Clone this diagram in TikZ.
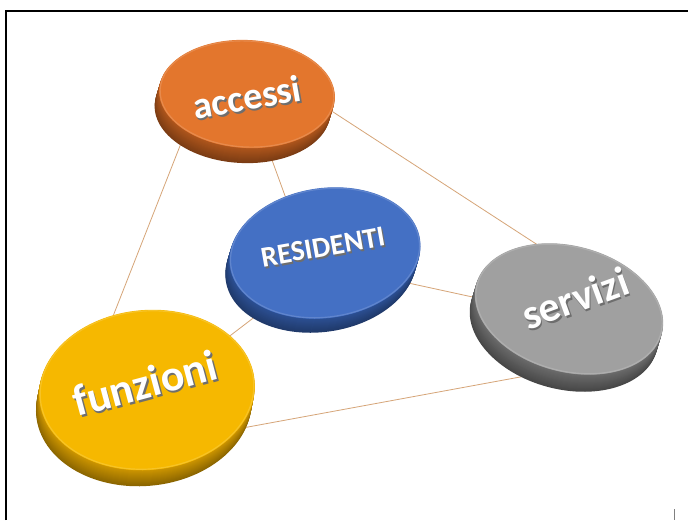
\documentclass[tikz,border=0pt]{standalone}
\usepackage{fontspec}
\setmainfont{Carlito}
\usetikzlibrary{calc}
\definecolor{linkc}{RGB}{214,165,120}
\definecolor{shadowc}{RGB}{110,110,110}
\definecolor{accface}{RGB}{227,118,45}
\definecolor{accside}{RGB}{176,86,28}
\definecolor{resface}{RGB}{68,112,196}
\definecolor{resside}{RGB}{44,80,148}
\definecolor{serface}{RGB}{160,160,160}
\definecolor{serside}{RGB}{108,108,108}
\definecolor{funface}{RGB}{246,184,0}
\definecolor{funside}{RGB}{206,150,0}
% #1 cx, #2 cy, #3 rx, #4 ry, #5 rot, #6 dx per step, #7 steps, #8 face, #9 side
\newcommand\drawdisk[9]{%
  \foreach \k in {#7,...,1}{%
    \pgfmathsetmacro\px{#1+\k*#6}%
    \pgfmathsetmacro\py{#2+\k}%
    \pgfmathtruncatemacro\pc{100-\k*2}%
    \fill[#9!\pc!black, rotate around={#5:(\px,\py)}] (\px,\py) ellipse [x radius=#3pt, y radius=#4pt];
  }%
  \fill[#8, rotate around={#5:(#1,#2)}] (#1,#2) ellipse [x radius=#3pt, y radius=#4pt];
  \draw[#8!85!white, line width=1.2pt, rotate around={#5:(#1,#2)}] (#1,#2) ellipse [x radius=#3pt-1pt, y radius=#4pt-1pt];
  \fill[#8, rotate around={#5:(#1,#2)}] (#1,#2) ellipse [x radius=#3pt-3pt, y radius=#4pt-3pt];
}
\begin{document}
\begin{tikzpicture}[x=1pt,y=-1pt,
  link/.style={draw=linkc, line width=0.8pt},
  lbl/.style={text=white, font=\bfseries, inner sep=0pt},
  lblsh/.style={text=shadowc, font=\bfseries, inner sep=0pt},
  frameline/.style={line width=2pt, draw=black}]
\useasboundingbox (0,0) rectangle (688,520);
\fill[white] (0,0) rectangle (688,520);
% frame
\coordinate (ftl) at (5.5,10.5);
\coordinate (fbl) at (5.5,520);
\coordinate (ftr) at (688,10.5);
\draw[frameline] (fbl) -- (ftl) -- (ftr);
\coordinate (tickt) at (674,509);
\coordinate (tickb) at (674,520);
\draw[gray, line width=0.7pt] (tickt) -- (tickb);
% disk centres
\coordinate (acc) at (246,94);
\coordinate (res) at (324,253);
\coordinate (ser) at (567,310);
\coordinate (fun) at (146,390);
% connector end points
\coordinate (af1) at (200,95);  \coordinate (af2) at (84,390);
\coordinate (as1) at (250,58);  \coordinate (as2) at (567,264);
\coordinate (ar1) at (260,127); \coordinate (ar2) at (300,237);
\coordinate (rs1) at (330,266); \coordinate (rs2) at (560,316);
\coordinate (rf1) at (320,267); \coordinate (rf2) at (146,400);
\coordinate (fs1) at (150,445); \coordinate (fs2) at (580,366);
\draw[link] (af1) -- (af2);
\draw[link] (as1) -- (as2);
\draw[link] (ar1) -- (ar2);
\draw[link] (rs1) -- (rs2);
\draw[link] (rf1) -- (rf2);
\draw[link] (fs1) -- (fs2);
% disks
\drawdisk{247}{94}{88}{54}{-3}{-0.3}{15}{accface}{accside}
\drawdisk{325}{253}{96}{65}{8}{-0.3}{14}{resface}{resside}
\drawdisk{569}{309}{96}{63}{-15}{-0.3}{17}{serface}{serside}
\drawdisk{147}{390}{108}{80}{5}{-0.2}{16}{funface}{funside}
% labels
\node[lblsh, font=\bfseries\fontsize{38}{40}\selectfont, rotate=10] (accsh) at (248.5,99) {accessi};
\node[lbl,   font=\bfseries\fontsize{38}{40}\selectfont, rotate=10] (acct) at (247,97) {accessi};
\node[lblsh, font=\bfseries\fontsize{29}{31}\selectfont, rotate=10] (ressh) at (324.5,249) {RESIDENTI};
\node[lbl,   font=\bfseries\fontsize{29}{31}\selectfont, rotate=10] (rest) at (323,247) {RESIDENTI};
\node[lblsh, font=\bfseries\fontsize{42}{44}\selectfont, rotate=20] (sersh) at (576.5,300) {servizi};
\node[lbl,   font=\bfseries\fontsize{42}{44}\selectfont, rotate=20] (sert) at (575,298) {servizi};
\node[lblsh, font=\bfseries\fontsize{44}{46}\selectfont, rotate=15] (funsh) at (146.5,385) {funzioni};
\node[lbl,   font=\bfseries\fontsize{44}{46}\selectfont, rotate=15] (funt) at (145,383) {funzioni};
\end{tikzpicture}
\end{document}
